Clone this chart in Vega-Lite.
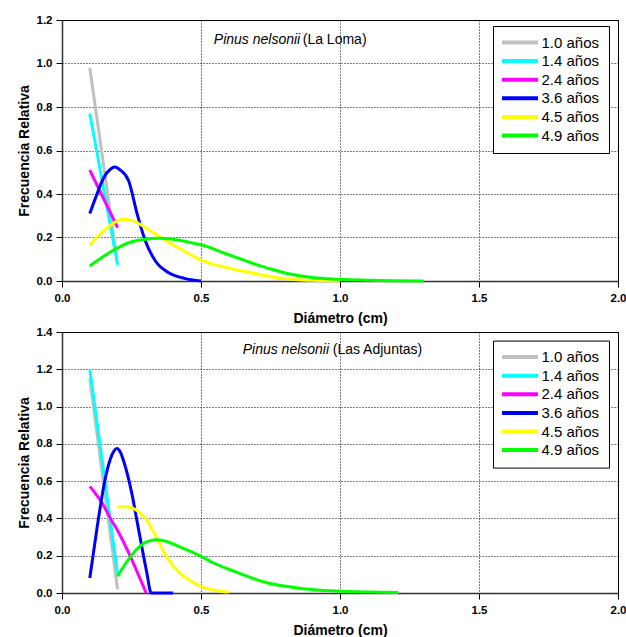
{
  "$schema": "https://vega.github.io/schema/vega-lite/v6.json",
  "background": "white",
  "padding": {"left": 16, "top": 13, "right": 5, "bottom": 5},
  "bounds": "flush",
  "spacing": 51,
  "datasets": {
    "curves": [
      {"sitio": "La Loma", "serie": "1.0 años", "d": 0.1, "f": 0.98},
      {"sitio": "La Loma", "serie": "1.0 años", "d": 0.2, "f": 0.08},
      {"sitio": "La Loma", "serie": "1.4 años", "d": 0.1, "f": 0.77},
      {"sitio": "La Loma", "serie": "1.4 años", "d": 0.2, "f": 0.075},
      {"sitio": "La Loma", "serie": "2.4 años", "d": 0.1, "f": 0.51},
      {"sitio": "La Loma", "serie": "2.4 años", "d": 0.2, "f": 0.245},
      {"sitio": "La Loma", "serie": "3.6 años", "d": 0.1, "f": 0.31},
      {"sitio": "La Loma", "serie": "3.6 años", "d": 0.12, "f": 0.38},
      {"sitio": "La Loma", "serie": "3.6 años", "d": 0.15, "f": 0.475},
      {"sitio": "La Loma", "serie": "3.6 años", "d": 0.175, "f": 0.515},
      {"sitio": "La Loma", "serie": "3.6 años", "d": 0.19, "f": 0.524},
      {"sitio": "La Loma", "serie": "3.6 años", "d": 0.21, "f": 0.51},
      {"sitio": "La Loma", "serie": "3.6 años", "d": 0.24, "f": 0.46},
      {"sitio": "La Loma", "serie": "3.6 años", "d": 0.27, "f": 0.31},
      {"sitio": "La Loma", "serie": "3.6 años", "d": 0.3, "f": 0.184},
      {"sitio": "La Loma", "serie": "3.6 años", "d": 0.336, "f": 0.092},
      {"sitio": "La Loma", "serie": "3.6 años", "d": 0.384, "f": 0.038},
      {"sitio": "La Loma", "serie": "3.6 años", "d": 0.44, "f": 0.012},
      {"sitio": "La Loma", "serie": "3.6 años", "d": 0.5, "f": 0.0},
      {"sitio": "La Loma", "serie": "4.5 años", "d": 0.1, "f": 0.164},
      {"sitio": "La Loma", "serie": "4.5 años", "d": 0.15, "f": 0.23},
      {"sitio": "La Loma", "serie": "4.5 años", "d": 0.19, "f": 0.27},
      {"sitio": "La Loma", "serie": "4.5 años", "d": 0.222, "f": 0.284},
      {"sitio": "La Loma", "serie": "4.5 años", "d": 0.26, "f": 0.275},
      {"sitio": "La Loma", "serie": "4.5 años", "d": 0.3, "f": 0.245},
      {"sitio": "La Loma", "serie": "4.5 años", "d": 0.35, "f": 0.205},
      {"sitio": "La Loma", "serie": "4.5 años", "d": 0.396, "f": 0.169},
      {"sitio": "La Loma", "serie": "4.5 años", "d": 0.45, "f": 0.13},
      {"sitio": "La Loma", "serie": "4.5 años", "d": 0.5, "f": 0.096},
      {"sitio": "La Loma", "serie": "4.5 años", "d": 0.6, "f": 0.06},
      {"sitio": "La Loma", "serie": "4.5 años", "d": 0.68, "f": 0.038},
      {"sitio": "La Loma", "serie": "4.5 años", "d": 0.75, "f": 0.02},
      {"sitio": "La Loma", "serie": "4.5 años", "d": 0.824, "f": 0.008},
      {"sitio": "La Loma", "serie": "4.5 años", "d": 0.9, "f": 0.003},
      {"sitio": "La Loma", "serie": "4.5 años", "d": 1.0, "f": 0.0},
      {"sitio": "La Loma", "serie": "4.9 años", "d": 0.1, "f": 0.069},
      {"sitio": "La Loma", "serie": "4.9 años", "d": 0.18, "f": 0.138},
      {"sitio": "La Loma", "serie": "4.9 años", "d": 0.24, "f": 0.176},
      {"sitio": "La Loma", "serie": "4.9 años", "d": 0.3, "f": 0.192},
      {"sitio": "La Loma", "serie": "4.9 años", "d": 0.348, "f": 0.196},
      {"sitio": "La Loma", "serie": "4.9 años", "d": 0.4, "f": 0.192},
      {"sitio": "La Loma", "serie": "4.9 años", "d": 0.48, "f": 0.172},
      {"sitio": "La Loma", "serie": "4.9 años", "d": 0.5, "f": 0.167},
      {"sitio": "La Loma", "serie": "4.9 años", "d": 0.58, "f": 0.13},
      {"sitio": "La Loma", "serie": "4.9 años", "d": 0.68, "f": 0.084},
      {"sitio": "La Loma", "serie": "4.9 años", "d": 0.75, "f": 0.055},
      {"sitio": "La Loma", "serie": "4.9 años", "d": 0.824, "f": 0.031},
      {"sitio": "La Loma", "serie": "4.9 años", "d": 0.9, "f": 0.016},
      {"sitio": "La Loma", "serie": "4.9 años", "d": 0.99, "f": 0.008},
      {"sitio": "La Loma", "serie": "4.9 años", "d": 1.1, "f": 0.003},
      {"sitio": "La Loma", "serie": "4.9 años", "d": 1.3, "f": 0.0},
      {"sitio": "Las Adjuntas", "serie": "1.0 años", "d": 0.1, "f": 1.15},
      {"sitio": "Las Adjuntas", "serie": "1.0 años", "d": 0.2, "f": 0.02},
      {"sitio": "Las Adjuntas", "serie": "1.4 años", "d": 0.1, "f": 1.2},
      {"sitio": "Las Adjuntas", "serie": "1.4 años", "d": 0.2, "f": 0.1},
      {"sitio": "Las Adjuntas", "serie": "2.4 años", "d": 0.1, "f": 0.572},
      {"sitio": "Las Adjuntas", "serie": "2.4 años", "d": 0.144, "f": 0.483},
      {"sitio": "Las Adjuntas", "serie": "2.4 años", "d": 0.18, "f": 0.385},
      {"sitio": "Las Adjuntas", "serie": "2.4 años", "d": 0.2, "f": 0.335},
      {"sitio": "Las Adjuntas", "serie": "2.4 años", "d": 0.24, "f": 0.215},
      {"sitio": "Las Adjuntas", "serie": "2.4 años", "d": 0.27, "f": 0.115},
      {"sitio": "Las Adjuntas", "serie": "2.4 años", "d": 0.303, "f": 0.0},
      {"sitio": "Las Adjuntas", "serie": "3.6 años", "d": 0.1, "f": 0.08},
      {"sitio": "Las Adjuntas", "serie": "3.6 años", "d": 0.126, "f": 0.349},
      {"sitio": "Las Adjuntas", "serie": "3.6 años", "d": 0.156, "f": 0.617},
      {"sitio": "Las Adjuntas", "serie": "3.6 años", "d": 0.18, "f": 0.742},
      {"sitio": "Las Adjuntas", "serie": "3.6 años", "d": 0.198, "f": 0.775},
      {"sitio": "Las Adjuntas", "serie": "3.6 años", "d": 0.21, "f": 0.755},
      {"sitio": "Las Adjuntas", "serie": "3.6 años", "d": 0.222, "f": 0.707},
      {"sitio": "Las Adjuntas", "serie": "3.6 años", "d": 0.252, "f": 0.528},
      {"sitio": "Las Adjuntas", "serie": "3.6 años", "d": 0.27, "f": 0.385},
      {"sitio": "Las Adjuntas", "serie": "3.6 años", "d": 0.288, "f": 0.241},
      {"sitio": "Las Adjuntas", "serie": "3.6 años", "d": 0.305, "f": 0.11},
      {"sitio": "Las Adjuntas", "serie": "3.6 años", "d": 0.321, "f": 0.0},
      {"sitio": "Las Adjuntas", "serie": "3.6 años", "d": 0.4, "f": 0.0},
      {"sitio": "Las Adjuntas", "serie": "4.5 años", "d": 0.198, "f": 0.461},
      {"sitio": "Las Adjuntas", "serie": "4.5 años", "d": 0.22, "f": 0.463},
      {"sitio": "Las Adjuntas", "serie": "4.5 años", "d": 0.252, "f": 0.456},
      {"sitio": "Las Adjuntas", "serie": "4.5 años", "d": 0.28, "f": 0.43},
      {"sitio": "Las Adjuntas", "serie": "4.5 años", "d": 0.3, "f": 0.4},
      {"sitio": "Las Adjuntas", "serie": "4.5 años", "d": 0.325, "f": 0.34},
      {"sitio": "Las Adjuntas", "serie": "4.5 años", "d": 0.347, "f": 0.277},
      {"sitio": "Las Adjuntas", "serie": "4.5 años", "d": 0.37, "f": 0.21},
      {"sitio": "Las Adjuntas", "serie": "4.5 años", "d": 0.396, "f": 0.152},
      {"sitio": "Las Adjuntas", "serie": "4.5 años", "d": 0.425, "f": 0.105},
      {"sitio": "Las Adjuntas", "serie": "4.5 años", "d": 0.455, "f": 0.072},
      {"sitio": "Las Adjuntas", "serie": "4.5 años", "d": 0.5, "f": 0.036},
      {"sitio": "Las Adjuntas", "serie": "4.5 años", "d": 0.55, "f": 0.015},
      {"sitio": "Las Adjuntas", "serie": "4.5 años", "d": 0.6, "f": 0.005},
      {"sitio": "Las Adjuntas", "serie": "4.9 años", "d": 0.2, "f": 0.09},
      {"sitio": "Las Adjuntas", "serie": "4.9 años", "d": 0.225, "f": 0.15},
      {"sitio": "Las Adjuntas", "serie": "4.9 años", "d": 0.252, "f": 0.206},
      {"sitio": "Las Adjuntas", "serie": "4.9 años", "d": 0.28, "f": 0.25},
      {"sitio": "Las Adjuntas", "serie": "4.9 años", "d": 0.3, "f": 0.272},
      {"sitio": "Las Adjuntas", "serie": "4.9 años", "d": 0.342, "f": 0.286},
      {"sitio": "Las Adjuntas", "serie": "4.9 años", "d": 0.38, "f": 0.275},
      {"sitio": "Las Adjuntas", "serie": "4.9 años", "d": 0.42, "f": 0.25},
      {"sitio": "Las Adjuntas", "serie": "4.9 años", "d": 0.5, "f": 0.197},
      {"sitio": "Las Adjuntas", "serie": "4.9 años", "d": 0.54, "f": 0.165},
      {"sitio": "Las Adjuntas", "serie": "4.9 años", "d": 0.62, "f": 0.116},
      {"sitio": "Las Adjuntas", "serie": "4.9 años", "d": 0.68, "f": 0.082},
      {"sitio": "Las Adjuntas", "serie": "4.9 años", "d": 0.74, "f": 0.054},
      {"sitio": "Las Adjuntas", "serie": "4.9 años", "d": 0.8, "f": 0.037},
      {"sitio": "Las Adjuntas", "serie": "4.9 años", "d": 0.86, "f": 0.024},
      {"sitio": "Las Adjuntas", "serie": "4.9 años", "d": 0.93, "f": 0.015},
      {"sitio": "Las Adjuntas", "serie": "4.9 años", "d": 1.0, "f": 0.01},
      {"sitio": "Las Adjuntas", "serie": "4.9 años", "d": 1.1, "f": 0.005},
      {"sitio": "Las Adjuntas", "serie": "4.9 años", "d": 1.21, "f": 0.003}
    ]
  },
  "resolve": {
    "scale": {"color": "independent", "x": "independent", "y": "independent"},
    "legend": {"color": "independent"}
  },
  "vconcat": [
    {
      "width": 556,
      "height": 261,
      "layer": [
        {
          "data": {"name": "curves"},
          "transform": [{"filter": "datum.sitio === 'La Loma'"}],
          "mark": {"type": "line", "strokeWidth": 3, "interpolate": "monotone"},
          "encoding": {
            "x": {"field": "d", "type": "quantitative", "scale": {"domain": [0, 2]},
                  "axis": {"title": "Diámetro (cm)", "values": [0, 0.5, 1, 1.5, 2], "format": ".1f"}},
            "y": {"field": "f", "type": "quantitative", "scale": {"domain": [0, 1.2]},
                  "axis": {"title": "Frecuencia Relativa", "values": [0, 0.2, 0.4, 0.6, 0.8, 1.0, 1.2], "format": ".1f"}},
            "color": {"field": "serie", "type": "nominal",
                      "scale": {"domain": ["1.0 años", "1.4 años", "2.4 años", "3.6 años", "4.5 años", "4.9 años"],
                                "range": ["#C0C0C0", "#00FFFF", "#FF00FF", "#0000FF", "#FFFF00", "#00FF00"]},
                      "legend": {"orient": "none", "legendX": 431, "legendY": 6}}
          }
        },
        {
          "data": {"values": [{"t": "Pinus nelsonii"}]},
          "mark": {"type": "text", "fontStyle": "italic", "align": "left", "baseline": "alphabetic", "fontSize": 14, "font": "Liberation Sans", "color": "black"},
          "encoding": {
            "x": {"datum": 0.546, "type": "quantitative", "axis": {"title": "Diámetro (cm)", "values": [0, 0.5, 1, 1.5, 2], "format": ".1f"}},
            "y": {"datum": 1.088, "type": "quantitative", "axis": {"title": "Frecuencia Relativa", "values": [0, 0.2, 0.4, 0.6, 0.8, 1.0, 1.2], "format": ".1f"}},
            "text": {"field": "t"}
          }
        },
        {
          "data": {"values": [{"t": "(La Loma)"}]},
          "mark": {"type": "text", "align": "left", "baseline": "alphabetic", "fontSize": 14, "font": "Liberation Sans", "color": "black"},
          "encoding": {
            "x": {"datum": 0.866, "type": "quantitative", "axis": {"title": "Diámetro (cm)", "values": [0, 0.5, 1, 1.5, 2], "format": ".1f"}},
            "y": {"datum": 1.088, "type": "quantitative", "axis": {"title": "Frecuencia Relativa", "values": [0, 0.2, 0.4, 0.6, 0.8, 1.0, 1.2], "format": ".1f"}},
            "text": {"field": "t"}
          }
        }
      ]
    },
    {
      "width": 556,
      "height": 261,
      "layer": [
        {
          "data": {"name": "curves"},
          "transform": [{"filter": "datum.sitio === 'Las Adjuntas'"}],
          "mark": {"type": "line", "strokeWidth": 3, "interpolate": "monotone"},
          "encoding": {
            "x": {"field": "d", "type": "quantitative", "scale": {"domain": [0, 2]},
                  "axis": {"title": "Diámetro (cm)", "values": [0, 0.5, 1, 1.5, 2], "format": ".1f"}},
            "y": {"field": "f", "type": "quantitative", "scale": {"domain": [0, 1.4]},
                  "axis": {"title": "Frecuencia Relativa", "values": [0, 0.2, 0.4, 0.6, 0.8, 1.0, 1.2, 1.4], "format": ".1f"}},
            "color": {"field": "serie", "type": "nominal",
                      "scale": {"domain": ["1.0 años", "1.4 años", "2.4 años", "3.6 años", "4.5 años", "4.9 años"],
                                "range": ["#C0C0C0", "#00FFFF", "#FF00FF", "#0000FF", "#FFFF00", "#00FF00"]},
                      "legend": {"orient": "none", "legendX": 431, "legendY": 8.6}}
          }
        },
        {
          "data": {"values": [{"t": "Pinus nelsonii"}]},
          "mark": {"type": "text", "fontStyle": "italic", "align": "left", "baseline": "alphabetic", "fontSize": 14, "font": "Liberation Sans", "color": "black"},
          "encoding": {
            "x": {"datum": 0.65, "type": "quantitative", "axis": {"title": "Diámetro (cm)", "values": [0, 0.5, 1, 1.5, 2], "format": ".1f"}},
            "y": {"datum": 1.284, "type": "quantitative", "axis": {"title": "Frecuencia Relativa", "values": [0, 0.2, 0.4, 0.6, 0.8, 1.0, 1.2, 1.4], "format": ".1f"}},
            "text": {"field": "t"}
          }
        },
        {
          "data": {"values": [{"t": "(Las Adjuntas)"}]},
          "mark": {"type": "text", "align": "left", "baseline": "alphabetic", "fontSize": 14, "font": "Liberation Sans", "color": "black"},
          "encoding": {
            "x": {"datum": 0.974, "type": "quantitative", "axis": {"title": "Diámetro (cm)", "values": [0, 0.5, 1, 1.5, 2], "format": ".1f"}},
            "y": {"datum": 1.284, "type": "quantitative", "axis": {"title": "Frecuencia Relativa", "values": [0, 0.2, 0.4, 0.6, 0.8, 1.0, 1.2, 1.4], "format": ".1f"}},
            "text": {"field": "t"}
          }
        }
      ]
    }
  ],
  "config": {
    "font": "Liberation Sans",
    "view": {"stroke": "black", "strokeWidth": 1},
    "axis": {
      "labelFont": "Liberation Sans", "labelFontWeight": "bold", "labelFontSize": 11.5, "labelColor": "black",
      "titleFont": "Liberation Sans", "titleFontWeight": "bold", "titleFontSize": 14, "titleColor": "black",
      "tickColor": "black", "tickSize": 6, "domainColor": "#333333", "domainWidth": 1.5,
      "gridColor": "black", "gridDash": [1, 2], "gridWidth": 1, "gridOpacity": 1,
      "labelOverlap": false
    },
    "axisX": {"labelPadding": 5, "titlePadding": 8, "labelFlush": false},
    "axisY": {"labelPadding": 4, "titlePadding": 5},
    "legend": {
      "title": null,
      "strokeColor": "black",
      "fillColor": "white",
      "padding": 9,
      "symbolType": "M-4,0H4",
      "symbolSize": 81,
      "symbolStrokeWidth": 4,
      "symbolOffset": 10.5,
      "labelOffset": 14,
      "rowPadding": 1.6,
      "labelFont": "Liberation Sans",
      "labelFontSize": 15,
      "labelColor": "black",
      "labelLimit": 200
    }
  }
}
